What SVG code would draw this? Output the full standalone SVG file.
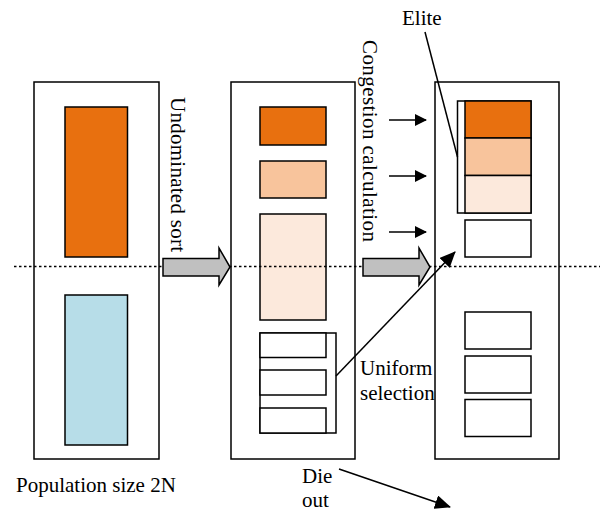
<svg xmlns="http://www.w3.org/2000/svg" width="601" height="512" viewBox="0 0 601 512">
<style>
.box{fill:#fff;stroke:#000;stroke-width:1.5}
.c1{fill:#E8700F;stroke:#000;stroke-width:1.5}
.c2{fill:#F8C49C;stroke:#000;stroke-width:1.5}
.c3{fill:#FCE9DC;stroke:#000;stroke-width:1.5}
.c4{fill:#B7DDE8;stroke:#000;stroke-width:1.5}
.wb{fill:#fff;stroke:#000;stroke-width:1.5}
.gray{fill:#C0C0C0;stroke:#000;stroke-width:1.5}
.t{font-size:21px;fill:#000}
.ln{stroke:#000;stroke-width:1.5;fill:none}
</style>
<defs>
<marker id="ah" markerWidth="12" markerHeight="12" refX="11" refY="6" orient="auto" markerUnits="userSpaceOnUse">
<path d="M0,0 L12,6 L0,12 Z" fill="#000"/>
</marker>
<marker id="ah2" markerWidth="16" markerHeight="14" refX="15" refY="7" orient="auto" markerUnits="userSpaceOnUse">
<path d="M0,0 L16,7 L0,14 Z" fill="#000"/>
</marker>
</defs>
<rect width="601" height="512" fill="#fff"/>

<g id="population">
<rect class="box" x="34" y="82" width="125" height="377"/>
<rect class="c1" x="65" y="107" width="62.5" height="150"/>
<rect class="c4" x="65" y="295" width="62.5" height="150"/>
<text class="t" font-family="'Liberation Serif', 'DejaVu Serif', serif" x="16" y="492">Population size 2N</text>
</g>

<g id="sorted">
<rect class="box" x="231" y="82" width="124" height="377"/>
<rect class="c1" x="260" y="107" width="66" height="38"/>
<rect class="c2" x="260" y="161" width="66" height="37"/>
<rect class="c3" x="260" y="214" width="66" height="106"/>
<rect class="wb" x="260" y="333" width="76" height="100"/>
<rect class="wb" x="260" y="333" width="66" height="24.5"/>
<rect class="wb" x="260" y="370" width="66" height="25"/>
<rect class="wb" x="260" y="408" width="66" height="25"/>
</g>

<g id="next">
<rect class="box" x="435" y="82" width="124" height="377"/>
<rect class="wb" x="457.5" y="101" width="73.5" height="112"/>
<rect class="c1" x="465" y="101" width="66" height="37"/>
<rect class="c2" x="465" y="138" width="66" height="37.5"/>
<rect class="c3" x="465" y="175.5" width="66" height="37.5"/>
<rect class="wb" x="465" y="220" width="66" height="37"/>
<rect class="wb" x="465" y="312" width="66" height="37"/>
<rect class="wb" x="465" y="356" width="66" height="37"/>
<rect class="wb" x="465" y="399.5" width="66" height="37"/>
</g>

<g id="labels" font-family="'Liberation Serif', 'DejaVu Serif', serif">
<text class="t" transform="translate(171,97) rotate(90)" textLength="155">Undominated sort</text>
<text class="t" transform="translate(363,40) rotate(90)" textLength="202">Congestion calculation</text>
<text class="t" x="402" y="25">Elite</text>
<text class="t" x="360" y="375">Uniform</text>
<text class="t" x="360" y="400">selection</text>
<text class="t" x="302" y="483">Die</text>
<text class="t" x="302" y="507">out</text>
</g>

<g id="connectors">
<line x1="14" y1="266.5" x2="600" y2="266.5" stroke="#000" stroke-width="1.3" stroke-dasharray="2.5,2.5"/>
<path class="gray" d="M163,258.5 H219 V248 L230,267 L219,285 V276 H163 Z"/>
<path class="gray" d="M363,258.5 H419 V248 L430,267 L419,285 V276 H363 Z"/>
<line class="ln" x1="389" y1="120" x2="426" y2="120" marker-end="url(#ah)"/>
<line class="ln" x1="389" y1="176" x2="426" y2="176" marker-end="url(#ah)"/>
<line class="ln" x1="389" y1="232" x2="426" y2="232" marker-end="url(#ah)"/>
<line class="ln" x1="425" y1="32" x2="457.5" y2="157"/>
<line class="ln" x1="336" y1="376" x2="455" y2="252" marker-end="url(#ah2)"/>
<line class="ln" x1="339" y1="469" x2="450" y2="507" marker-end="url(#ah2)"/>
</g>
</svg>
